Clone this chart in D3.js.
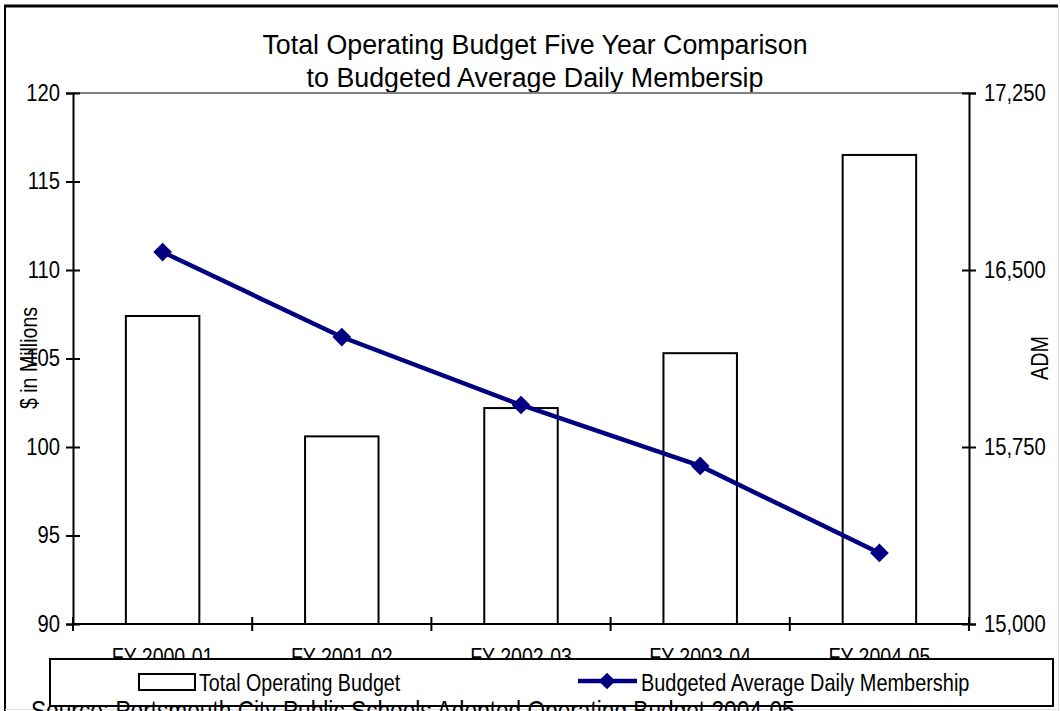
<!DOCTYPE html>
<html><head><meta charset="utf-8">
<script src="https://cdn.jsdelivr.net/npm/d3@7"></script>
<style>body{margin:0;background:#fff}svg{display:block}text{font-family:"Liberation Sans",Arial,sans-serif;fill:#000}</style>
</head><body><svg id="c" width="1060" height="711"></svg>
<script>
const categories = ["FY 2000-01","FY 2001-02","FY 2002-03","FY 2003-04","FY 2004-05"];
const budget = [107.4, 100.6, 102.2, 105.3, 116.5];
const adm = [16576, 16216, 15928, 15670, 15301];
const leftTicks = [90,95,100,105,110,115,120];
const rightTicks = [15000,15750,16500,17250];
const titleLines = ["Total Operating Budget Five Year Comparison","to Budgeted Average Daily Membersip"];

const svg = d3.select("#c");
const L=73, R=969, T=93, B=624;
const x = d3.scaleBand().domain(categories).range([L,R]).paddingInner(0).paddingOuter(0);
const yL = d3.scaleLinear().domain([90,120]).range([B,T]);
const yR = d3.scaleLinear().domain([15000,17250]).range([B,T]);

// narrow text helper (horizontal condensing)
function ntext(parent, str, px, py, size, k, anchor, rot){
  return parent.append("text")
    .attr("transform",`translate(${px},${py})${rot?` rotate(${rot})`:""} scale(${k},1)`)
    .attr("text-anchor",anchor||"start").attr("font-size",size).text(str);
}

// outer frame
svg.append("line").attr("x1",4).attr("x2",1058).attr("y1",6).attr("y2",6).attr("stroke","#000").attr("stroke-width",3);
svg.append("line").attr("x1",5).attr("x2",5).attr("y1",5).attr("y2",711).attr("stroke","#000").attr("stroke-width",2);
svg.append("line").attr("x1",1058.5).attr("x2",1058.5).attr("y1",6).attr("y2",711).attr("stroke","#ddd").attr("stroke-width",1);
svg.append("line").attr("x1",5).attr("x2",1059).attr("y1",709.5).attr("y2",709.5).attr("stroke","#ddd").attr("stroke-width",1);

// title
svg.append("g").selectAll("text").data(titleLines).join("text")
  .attr("x",535).attr("y",(d,i)=>54+i*33).attr("text-anchor","middle").attr("font-size",26.8).text(d=>d);

// top grey line
svg.append("line").attr("x1",L).attr("x2",R).attr("y1",yL(120)).attr("y2",yL(120)).attr("stroke","#808080").attr("stroke-width",2);

// bars
const bw = x.bandwidth()*0.41;
svg.append("g").selectAll("rect").data(categories).join("rect")
  .attr("x",d=>x(d)+x.bandwidth()/2-bw/2).attr("width",bw)
  .attr("y",(d,i)=>yL(budget[i])).attr("height",(d,i)=>yL(90)-yL(budget[i]))
  .attr("fill","#fff").attr("stroke","#000").attr("stroke-width",2);

const KT = 0.88;
// left axis
const gl = svg.append("g").attr("transform",`translate(${L},0)`)
  .call(d3.axisLeft(yL).tickValues(leftTicks).tickSize(7).tickPadding(6));
gl.select(".domain").attr("stroke","#000").attr("stroke-width",2);
gl.selectAll(".tick line").attr("x1",-7).attr("x2",7).attr("stroke","#000").attr("stroke-width",2);
gl.selectAll(".tick text").attr("font-size",23).attr("font-family","Liberation Sans, Arial, sans-serif")
  .attr("x",-13/KT).attr("transform",`scale(${KT},1)`);

// right axis
const gr = svg.append("g").attr("transform",`translate(${R},0)`)
  .call(d3.axisRight(yR).tickValues(rightTicks).tickSize(7).tickPadding(6).tickFormat(d3.format(",")));
gr.select(".domain").attr("stroke","#000").attr("stroke-width",2);
gr.selectAll(".tick line").attr("x1",-7).attr("x2",7).attr("stroke","#000").attr("stroke-width",2);
gr.selectAll(".tick text").attr("font-size",23).attr("font-family","Liberation Sans, Arial, sans-serif")
  .attr("x",15/KT).attr("transform",`scale(${KT},1)`);

// bottom axis line + ticks at category boundaries
svg.append("line").attr("x1",L).attr("x2",R).attr("y1",B).attr("y2",B).attr("stroke","#000").attr("stroke-width",2);
const edges = categories.map(c=>x(c)).concat([x(categories[categories.length-1])+x.bandwidth()]);
svg.append("g").selectAll("line").data(edges).join("line")
  .attr("x1",d=>d).attr("x2",d=>d).attr("y1",B-7).attr("y2",B+7).attr("stroke","#000").attr("stroke-width",2);
const gx = svg.append("g");
categories.forEach(c=>ntext(gx, c, x(c)+x.bandwidth()/2, 665, 23, 0.85, "middle"));

// axis titles
ntext(svg, "$ in Millions", 37, 358, 23, 0.85, "middle", -90);
ntext(svg, "ADM", 1048, 358, 23, 0.86, "middle", -90);

// line series
const line = d3.line().x((d,i)=>x(categories[i])+x.bandwidth()/2).y(d=>yR(d));
svg.append("path").datum(adm).attr("d",line).attr("fill","none").attr("stroke","#000080").attr("stroke-width",4.5);
const diamond = d3.symbol().type(d3.symbolSquare).size(175);
const diamondSm = d3.symbol().type(d3.symbolSquare).size(140);
svg.append("g").selectAll("path").data(adm).join("path")
  .attr("d",diamond).attr("transform",(d,i)=>`translate(${x(categories[i])+x.bandwidth()/2},${yR(d)}) rotate(45)`)
  .attr("fill","#000080");

// legend
svg.append("rect").attr("x",50).attr("y",659).attr("width",1003).attr("height",47).attr("fill","#fff").attr("stroke","#000").attr("stroke-width",2);
svg.append("rect").attr("x",139).attr("y",674).attr("width",56).attr("height",16).attr("fill","#fff").attr("stroke","#000").attr("stroke-width",2);
ntext(svg, "Total Operating Budget", 199, 691, 24, 0.82);
svg.append("line").attr("x1",578).attr("x2",637).attr("y1",681).attr("y2",681).attr("stroke","#000080").attr("stroke-width",4.5);
svg.append("path").attr("d",diamondSm).attr("transform","translate(607,681) rotate(45)").attr("fill","#000080");
ntext(svg, "Budgeted Average Daily Membership", 641, 691, 24, 0.83);

// source
ntext(svg, "Source: Portsmouth City Public Schools Adopted Operating Budget 2004-05", 31, 720, 27, 0.84);
</script></body></html>
